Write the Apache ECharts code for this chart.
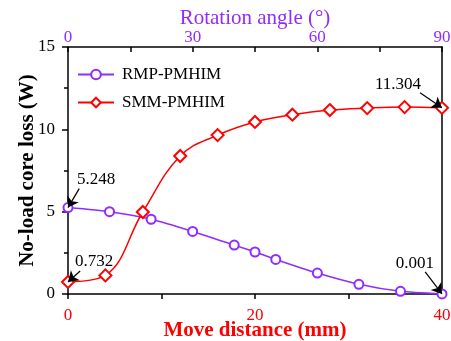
<!DOCTYPE html>
<html>
<head>
<meta charset="utf-8">
<script src="https://cdn.jsdelivr.net/npm/echarts@6/dist/echarts.min.js"></script>
<style>
    html, body { margin: 0; padding: 0; background: #fff; }
    #main { width: 451px; height: 341px; }
</style>
</head>
<body>
<div id="main"></div>
<script>
    // move distance (mm) and loss (W)
    var rmpX = [0, 4.44, 8.89, 13.33, 17.78, 20, 22.22, 26.67, 31.11, 35.56, 40];
    var rmpY = [5.248, 5.0, 4.54, 3.8, 2.97, 2.55, 2.1, 1.27, 0.59, 0.16, 0.001];
    var smmX = [0, 4, 8, 12, 16, 20, 24, 28, 32, 36, 40];
    var smmY = [0.732, 1.13, 4.98, 8.38, 9.65, 10.45, 10.89, 11.17, 11.29, 11.35, 11.304];

    // annotations (data units)
    var noteText = ['5.248', '0.732', '11.304', '0.001'];
    var notePos = [[3.0, 6.98], [2.8, 2.0], [35.3, 12.75], [37.1, 1.85]];
    var arrowFrom = [[1.2, 6.4], [1.3, 1.4], [37.65, 12.22], [38.2, 1.35]];
    var arrowTo = [[0, 5.248], [0, 0.732], [40, 11.304], [40, 0.001]];

    var purple = '#8f2cff';
    var red = '#ff0000';
    var font = "'Liberation Serif', 'Times New Roman', serif";

    function pairs(xs, ys) {
        var out = [];
        for (var i = 0; i < xs.length; i++) out.push([xs[i], ys[i]]);
        return out;
    }

    var arrowLines = [];
    var noteMarks = [];
    for (var i = 0; i < noteText.length; i++) {
        arrowLines.push([{ coord: arrowFrom[i] }, { coord: arrowTo[i] }]);
        noteMarks.push({ coord: notePos[i], value: noteText[i] });
    }

    var myChart = echarts.init(document.getElementById('main'));
    var option = {
        backgroundColor: '#fff',
        animation: false,
        textStyle: { fontFamily: font },
        grid: { left: 68, right: 9, top: 47, bottom: 47, outerBoundsMode: 'none', containLabel: false },
        legend: {
            left: 72,
            top: 61,
            orient: 'vertical',
            itemWidth: 36,
            itemHeight: 12,
            itemGap: 11,
            textStyle: { fontFamily: font, fontSize: 17, color: '#000', padding: [0, 0, 0, 3] },
            data: ['RMP-PMHIM', 'SMM-PMHIM']
        },
        xAxis: [
            {
                type: 'value',
                position: 'bottom',
                min: 0, max: 40, interval: 20,
                name: 'Move distance (mm)',
                nameLocation: 'middle',
                nameGap: 26,
                nameMoveOverlap: false,
                nameTextStyle: { fontFamily: font, fontSize: 21, fontWeight: 'bold', color: red },
                axisLine: { show: true, onZero: false, lineStyle: { color: '#000', width: 1.5 } },
                axisTick: { show: true, inside: false, length: 5, lineStyle: { color: '#000', width: 1.5 } },
                minorTick: { show: true, splitNumber: 2, length: 5, lineStyle: { color: '#000', width: 1.5 } },
                axisLabel: { fontFamily: font, fontSize: 17, color: red, margin: 13 },
                splitLine: { show: false }
            },
            {
                type: 'value',
                position: 'top',
                min: 0, max: 90, interval: 30,
                name: 'Rotation angle (°)',
                nameLocation: 'middle',
                nameGap: 18,
                nameMoveOverlap: false,
                nameTextStyle: { fontFamily: font, fontSize: 21, color: purple },
                axisLine: { show: true, onZero: false, lineStyle: { color: '#000', width: 1.5 } },
                axisTick: { show: true, inside: true, length: 5, lineStyle: { color: '#000', width: 1.5 } },
                minorTick: { show: true, splitNumber: 2, length: 5, lineStyle: { color: '#000', width: 1.5 } },
                axisLabel: { fontFamily: font, fontSize: 17, color: purple, margin: 1 },
                splitLine: { show: false }
            }
        ],
        yAxis: [
            {
                type: 'value',
                position: 'left',
                min: 0, max: 15, interval: 5,
                name: 'No-load core loss (W)',
                nameLocation: 'middle',
                nameGap: 30,
                nameMoveOverlap: false,
                nameTextStyle: { fontFamily: font, fontSize: 21, fontWeight: 'bold', color: '#000' },
                axisLine: { show: true, onZero: false, lineStyle: { color: '#000', width: 1.5 } },
                axisTick: { show: true, inside: false, length: 6, lineStyle: { color: '#000', width: 1.5 } },
                minorTick: { show: true, splitNumber: 2, length: 4, lineStyle: { color: '#000', width: 1.5 } },
                axisLabel: { fontFamily: font, fontSize: 17, color: '#000', margin: 13 },
                splitLine: { show: false }
            },
            {
                type: 'value',
                position: 'right',
                min: 0, max: 15,
                axisLine: { show: true, onZero: false, lineStyle: { color: '#000', width: 1.5 } },
                axisTick: { show: false },
                axisLabel: { show: false },
                splitLine: { show: false }
            }
        ],
        series: [
            {
                name: 'RMP-PMHIM',
                type: 'line',
                xAxisIndex: 0,
                yAxisIndex: 0,
                smooth: 0.2,
                symbol: 'emptyCircle',
                symbolSize: 9,
                color: purple,
                lineStyle: { color: purple, width: 1.5 },
                itemStyle: { color: purple, borderColor: purple, borderWidth: 1.5 },
                data: pairs(rmpX, rmpY),
                markLine: {
                    silent: true,
                    symbol: ['none', 'arrow'],
                    symbolSize: 10,
                    lineStyle: { color: '#000', width: 1.2, type: 'solid' },
                    itemStyle: { color: '#000' },
                    label: { show: false },
                    data: arrowLines
                },
                markPoint: {
                    silent: true,
                    symbol: 'circle',
                    symbolSize: 0,
                    label: {
                        show: true,
                        position: 'inside',
                        fontFamily: font,
                        fontSize: 17,
                        color: '#000',
                        formatter: function (p) { return p.value; }
                    },
                    data: noteMarks
                }
            },
            {
                name: 'SMM-PMHIM',
                type: 'line',
                xAxisIndex: 0,
                yAxisIndex: 0,
                smooth: 0.4,
                symbol: 'emptyDiamond',
                symbolSize: 12,
                color: red,
                lineStyle: { color: red, width: 1.5 },
                itemStyle: { color: red, borderColor: red, borderWidth: 1.5 },
                data: pairs(smmX, smmY)
            }
        ]
    };
    myChart.setOption(option);
    window.addEventListener('resize', function () {
        myChart.resize();
    });
</script>
</body>
</html>
